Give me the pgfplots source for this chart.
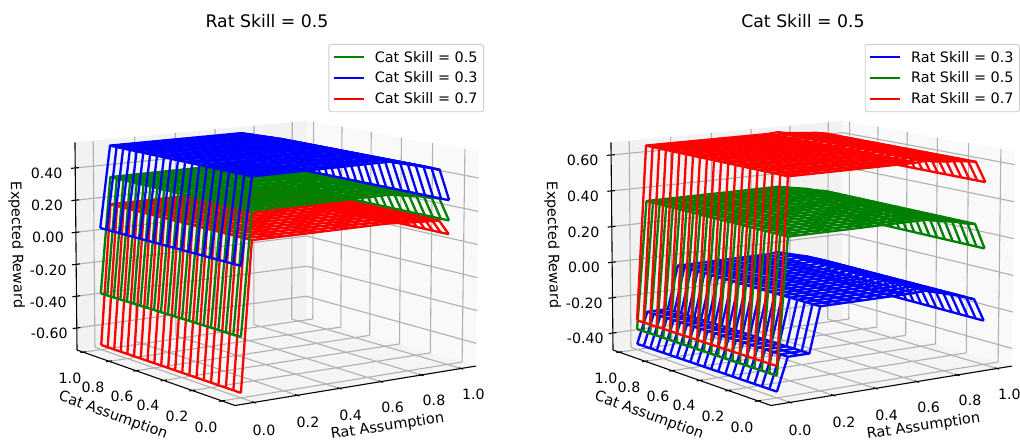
\documentclass[border=0pt]{standalone}
\usepackage{fontspec}
\setmainfont{DejaVu Sans}
\usepackage{pgfplots}
\usepackage{pgfplotstable}
\pgfplotsset{compat=1.18}
\definecolor{cg}{HTML}{008000}
\definecolor{cb}{HTML}{0000FF}
\definecolor{cr}{HTML}{FF0000}
\newcommand\fs{\fontsize{14.2}{17}\selectfont}
\newcommand\fl{\fontsize{14.5}{17}\selectfont}
\newcommand\fe{\fontsize{14.4}{17}\selectfont}
\newcommand\ft{\fontsize{17.3}{20}\selectfont}

% expected reward against rat assumption, left chart (rat skill 0.5)
\pgfplotstableread{
x green blue red
0.00 -0.385 0.025 -0.710
0.05 0.335 0.530 0.165
0.10 0.335 0.530 0.165
0.15 0.335 0.530 0.165
0.20 0.335 0.530 0.165
0.25 0.335 0.530 0.165
0.30 0.335 0.530 0.165
0.35 0.335 0.530 0.165
0.40 0.335 0.530 0.165
0.45 0.335 0.530 0.165
0.50 0.335 0.530 0.165
0.55 0.335 0.530 0.165
0.60 0.335 0.530 0.165
0.65 0.335 0.530 0.165
0.70 0.335 0.530 0.165
0.75 0.325 0.515 0.160
0.80 0.315 0.500 0.155
0.85 0.305 0.485 0.152
0.90 0.290 0.470 0.148
0.95 0.278 0.450 0.145
1.00 0.138 0.260 0.055
}\tabL
% right chart (cat skill 0.5)
\pgfplotstableread{
x blue green red
0.00 -0.464 -0.380 -0.330
0.05 -0.290 0.335 0.645
0.10 -0.290 0.335 0.645
0.15 -0.290 0.335 0.645
0.20 -0.050 0.335 0.645
0.25 -0.050 0.335 0.645
0.30 -0.050 0.335 0.645
0.35 -0.050 0.335 0.645
0.40 -0.050 0.335 0.645
0.45 -0.050 0.335 0.645
0.50 -0.050 0.335 0.645
0.55 -0.050 0.335 0.645
0.60 -0.050 0.335 0.645
0.65 -0.050 0.335 0.645
0.70 -0.045 0.335 0.650
0.75 -0.060 0.325 0.640
0.80 -0.075 0.315 0.635
0.85 -0.090 0.305 0.630
0.90 -0.110 0.290 0.625
0.95 -0.130 0.280 0.616
1.00 -0.255 0.140 0.500
}\tabR
\pgfplotstableread{
y d
0 0
1 0
}\ends
\pgfplotstableread{
k d
0 0
1 0
}\kk
\pgfplotstableread{
s t r
0 1 0
1 1 0
1 1 1
0 1 1
}\paneY
\pgfplotstableread{
s t r
1 0 0
1 1 0
1 1 1
1 0 1
}\paneX
\pgfplotstableread{
s t r
0 0 0
1 0 0
1 1 0
0 1 0
}\paneZ

\pgfplotsset{
 gridl/.style={color=gray!62,line width=1.1pt},
 tickl/.style={color=black,line width=1.1pt},
 axl/.style={color=black,line width=1.1pt},
 wire/.style={line width=2.3pt,line join=round,no marks},
 canvas/.style={
  width=484pt,height=441pt,scale only axis,hide axis,clip=false,
  xmin=0,xmax=484,ymin=0,ymax=441,y dir=reverse,anchor=south west,
  no marks,
  declare function={
   wwf(\a,\b,\c)=1+0.0649*\a+0.1006*\b-0.0135*\c;
   pxf(\a,\b,\c)=(235+271.9*\a-150.25*\b-3.25*\c)/wwf(\a,\b,\c);
   pyf(\a,\b,\c)=(405.5-15.7*\a-20.3*\b-230.5*\c)/wwf(\a,\b,\c);
   ssf(\a)=(\a+0.0866)/1.1633;
   ttf(\a)=(\a+0.0855)/1.1348;
  },
  legend image code/.code={\draw[#1,line width=2pt] (0pt,0pt)--(30pt,0pt);},
  legend cell align=left,
  legend style={at={(axis cs:484,44)},anchor=north east,font=\fe,
   draw=gray!40,line width=0.9pt,rounded corners=2.5pt,fill=white,
   inner xsep=4pt,inner ysep=4.7pt,row sep=4.3pt,
   /tikz/every odd column/.style={column sep=8pt}},
  title style={font=\ft,at={(axis cs:267,27.5)},anchor=center,yshift=0pt},
 }
}
\newcommand\seg[7]{\addplot[#7,forget plot] table[
  x expr={pxf(#1+\thisrow{k}*((#4)-(#1)),#2+\thisrow{k}*((#5)-(#2)),#3+\thisrow{k}*((#6)-(#3)))},
  y expr={pyf(#1+\thisrow{k}*((#4)-(#1)),#2+\thisrow{k}*((#5)-(#2)),#3+\thisrow{k}*((#6)-(#3)))}]{\kk};}
\newcommand\pane[2]{\addplot[fill=#2,draw=none,forget plot] table[
  x expr={pxf(\thisrow{s},\thisrow{t},\thisrow{r})},
  y expr={pyf(\thisrow{s},\thisrow{t},\thisrow{r})}]{#1};}
\newcommand\gridx[1]{\seg{ssf(#1)}{1}{0}{ssf(#1)}{1}{1}{gridl}\seg{ssf(#1)}{0}{0}{ssf(#1)}{1}{0}{gridl}\seg{ssf(#1)}{-0.012}{0}{ssf(#1)}{0.012}{0}{tickl}}
\newcommand\gridy[1]{\seg{1}{ttf(#1)}{0}{1}{ttf(#1)}{1}{gridl}\seg{0}{ttf(#1)}{0}{1}{ttf(#1)}{0}{gridl}\seg{-0.012}{ttf(#1)}{0}{0.012}{ttf(#1)}{0}{tickl}}
\newcommand\gridz[1]{\seg{0}{1}{rrf(#1)}{1}{1}{rrf(#1)}{gridl}\seg{1}{0}{rrf(#1)}{1}{1}{rrf(#1)}{gridl}\seg{-0.017}{1}{rrf(#1)}{0.015}{1}{rrf(#1)}{tickl}}
\newcommand\frameBox{%
 \pane{\paneY}{black!5}\pane{\paneX}{black!2.5}\pane{\paneZ}{black!3.8}%
 \gridx{0}\gridx{0.2}\gridx{0.4}\gridx{0.6}\gridx{0.8}\gridx{1}%
 \gridy{0}\gridy{0.2}\gridy{0.4}\gridy{0.6}\gridy{0.8}\gridy{1}%
 \seg{0}{0}{0}{1}{0}{0}{axl}\seg{0}{0}{0}{0}{1}{0}{axl}\seg{0}{1}{0}{0}{1}{1}{axl}}
\newcommand\surface[3]{%
 \pgfplotsforeachungrouped \Y in {0,0.05,0.10,0.15,0.20,0.25,0.30,0.35,0.40,0.45,0.50,0.55,0.60,0.65,0.70,0.75,0.80,0.85,0.90,0.95,1.00}{%
  \edef\temp{\noexpand\addplot[color=#3,wire,forget plot] table[
    x expr={pxf(ssf(\noexpand\thisrow{x}),ttf(\Y),rrf(\noexpand\thisrow{#2}))},
    y expr={pyf(ssf(\noexpand\thisrow{x}),ttf(\Y),rrf(\noexpand\thisrow{#2}))}]{\noexpand#1};}\temp}%
 \pgfplotsforeachungrouped \I in {0,...,20}{%
  \pgfplotstablegetelem{\I}{x}\of#1\let\X\pgfplotsretval
  \pgfplotstablegetelem{\I}{#2}\of#1\let\Z\pgfplotsretval
  \edef\temp{\noexpand\addplot[color=#3,wire,forget plot] table[
    x expr={pxf(ssf(\X),ttf(\noexpand\thisrow{y}),rrf(\Z))},
    y expr={pyf(ssf(\X),ttf(\noexpand\thisrow{y}),rrf(\Z))}]{\noexpand\ends};}\temp}}
\newcommand\labels{%
 \node[font=\fs] at (axis cs:264,430) {0.0};
 \node[font=\fs] at (axis cs:308,422) {0.2};
 \node[font=\fs] at (axis cs:350.7,415) {0.4};
 \node[font=\fs] at (axis cs:392.7,407.7) {0.6};
 \node[font=\fs] at (axis cs:434,400.7) {0.8};
 \node[font=\fs] at (axis cs:473.3,394) {1.0};
 \node[font=\fs] at (axis cs:70,378) {1.0};
 \node[font=\fs] at (axis cs:93,387) {0.8};
 \node[font=\fs] at (axis cs:122,396) {0.6};
 \node[font=\fs] at (axis cs:148,405) {0.4};
 \node[font=\fs] at (axis cs:177,416) {0.2};
 \node[font=\fs] at (axis cs:206,427) {0.0};
 \node[font=\fl,rotate=8.4,inner sep=0pt] at (axis cs:387.5,426.5) {Rat Assumption};
 \node[font=\fl,rotate=-20,inner sep=0pt] at (axis cs:113,415.5) {Cat Assumption};
 \node[font=\fl,rotate=-88.5,inner sep=0pt] at (axis cs:16.5,245) {Expected Reward};
}
\begin{document}
\begin{tikzpicture}[x=1pt,y=1pt]
\path[use as bounding box] (0,0) rectangle (1020pt,441pt);
\begin{axis}[canvas,at={(0pt,0pt)},title={Rat Skill = 0.5},
  declare function={rrf(\a)=(\a+0.739)/1.2975;}]
 \frameBox
 \gridz{-0.6}\gridz{-0.4}\gridz{-0.2}\gridz{0}\gridz{0.2}\gridz{0.4}
 \surface{\tabL}{red}{cr}
 \surface{\tabL}{green}{cg}
 \surface{\tabL}{blue}{cb}
 \addlegendimage{color=cg}\addlegendentry{Cat Skill = 0.5}
 \addlegendimage{color=cb}\addlegendentry{Cat Skill = 0.3}
 \addlegendimage{color=cr}\addlegendentry{Cat Skill = 0.7}
 \labels
 \node[font=\fs] at (axis cs:46.7,173) {0.40};
 \node[font=\fs] at (axis cs:47,205) {0.20};
 \node[font=\fs] at (axis cs:48,237) {0.00};
 \node[font=\fs] at (axis cs:48.3,270) {-0.20};
 \node[font=\fs] at (axis cs:48.3,302.7) {-0.40};
 \node[font=\fs] at (axis cs:49.3,333.3) {-0.60};
\end{axis}
\begin{axis}[canvas,at={(536pt,0pt)},title={Cat Skill = 0.5},
  declare function={rrf(\a)=(\a+0.4965)/1.167;}]
 \frameBox
 \gridz{-0.4}\gridz{-0.2}\gridz{0}\gridz{0.2}\gridz{0.4}\gridz{0.6}
 \surface{\tabR}{blue}{cb}
 \surface{\tabR}{green}{cg}
 \surface{\tabR}{red}{cr}
 \addlegendimage{color=cb}\addlegendentry{Rat Skill = 0.3}
 \addlegendimage{color=cg}\addlegendentry{Rat Skill = 0.5}
 \addlegendimage{color=cr}\addlegendentry{Rat Skill = 0.7}
 \labels
 \node[font=\fs] at (axis cs:46.7,160) {0.60};
 \node[font=\fs] at (axis cs:47,196) {0.40};
 \node[font=\fs] at (axis cs:47.5,232) {0.20};
 \node[font=\fs] at (axis cs:48,267) {0.00};
 \node[font=\fs] at (axis cs:48.3,303) {-0.20};
 \node[font=\fs] at (axis cs:49.3,338) {-0.40};
\end{axis}
\end{tikzpicture}
\end{document}
